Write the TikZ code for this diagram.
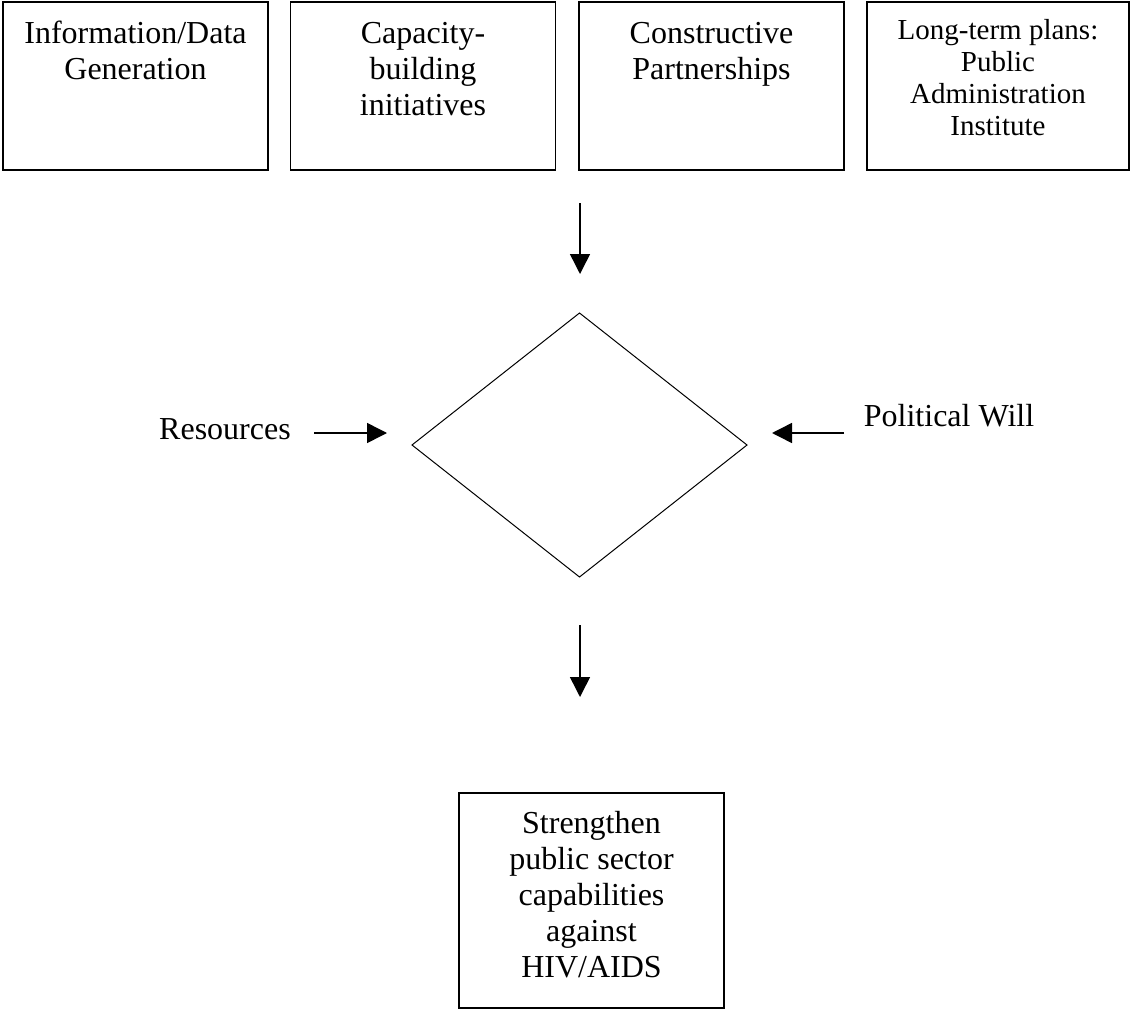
\documentclass[tikz,border=0pt]{standalone}
\usepackage{fontspec}
\setmainfont{Liberation Serif}
\usetikzlibrary{shapes.geometric,arrows.meta}
\newcommand\bigtxt{\fontsize{32}{36}\selectfont}
\newcommand\midtxt{\fontsize{29}{32}\selectfont}
\newcommand\firstline{\rule{0pt}{24pt}}
\tikzset{
  boxnode/.style={draw, line width=1.5pt, inner sep=0pt, outer sep=0pt, minimum width=265pt},
  txt/.style={inner sep=0pt, align=center, anchor=north, font=\bigtxt},
  lbl/.style={inner sep=0pt, anchor=base, font=\bigtxt},
  arr/.style={line width=1.5pt, -{Triangle[length=20pt,width=20pt]}},
  dia/.style={draw, line width=1pt, diamond, inner sep=0pt, outer sep=0pt, minimum width=335pt, minimum height=264pt}
}
\begin{document}
\begin{tikzpicture}[x=1pt,y=-1pt]
\useasboundingbox (0,0) rectangle (1131,1011);
% top boxes
\node[boxnode, minimum height=168pt] (b1) at (135.5,86) {};
\node[boxnode, minimum height=168pt] (b2) at (423,86) {};
\node[boxnode, minimum height=168pt] (b3) at (711.5,86) {};
\node[boxnode, minimum height=168pt, minimum width=262pt] (b4) at (998,86) {};
\node[txt] (t1) at (135.5,19) {\firstline Information/Data\\Generation};
\node[txt] (t2) at (423,19) {\firstline Capacity-\\building\\initiatives};
\node[txt] (t3) at (711.5,19) {\firstline Constructive\\Partnerships};
\node[txt, font=\midtxt] (t4) at (998,15) {\firstline Long-term plans:\\Public\\Administration\\Institute};
% diamond
\node[dia] (d) at (579.5,445) {};
% arrows
\coordinate (a1s) at (580,203);
\coordinate (a1e) at (580,274);
\draw[arr] (a1s) -- (a1e);
\node[lbl] (res) at (225,439) {Resources};
\coordinate (a2s) at (314,433);
\coordinate (a2e) at (387,433);
\draw[arr] (a2s) -- (a2e);
\node[lbl] (pw) at (949,426) {Political Will};
\coordinate (a3s) at (844,433);
\coordinate (a3e) at (772,433);
\draw[arr] (a3s) -- (a3e);
\coordinate (a4s) at (580,625);
\coordinate (a4e) at (580,697);
\draw[arr] (a4s) -- (a4e);
% bottom box
\node[boxnode, minimum height=215pt] (b5) at (591.5,900.5) {};
\node[txt] (t5) at (591.5,809) {\firstline Strengthen\\public sector\\capabilities\\against\\HIV/AIDS};
\end{tikzpicture}
\end{document}
